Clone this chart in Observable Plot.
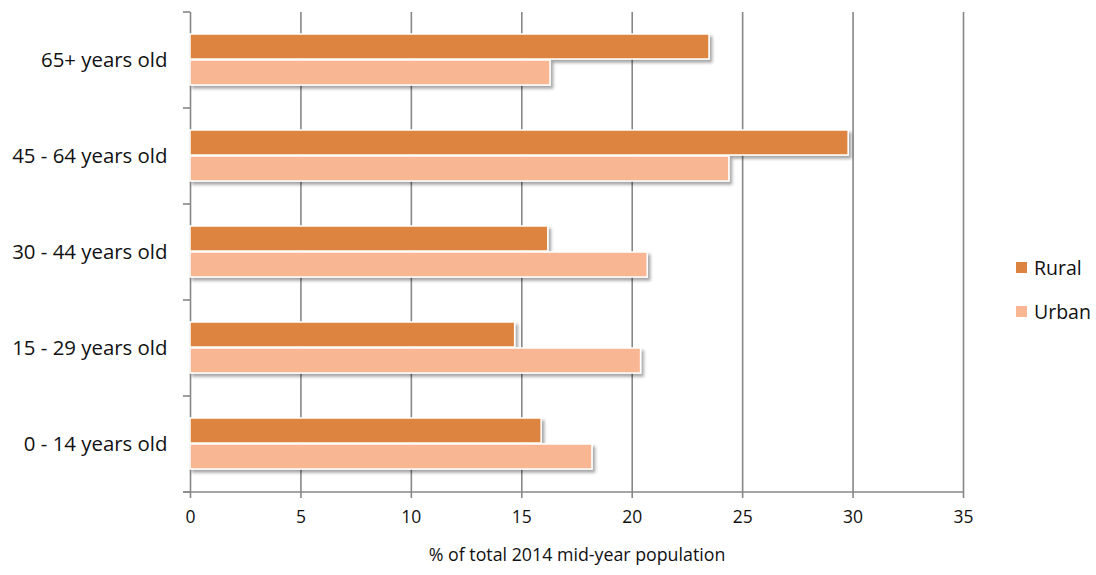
<!DOCTYPE html>
<html>
<head>
<meta charset="utf-8">
<script src="https://cdn.jsdelivr.net/npm/d3@7"></script>
<script src="https://cdn.jsdelivr.net/npm/@observablehq/plot@0.6"></script>
<style>
  html, body { margin: 0; padding: 0; background: #fff; }
  #wrap { position: relative; width: 1096px; height: 575px; font-family: "Open Sans", sans-serif; color: #111; }
  #legend { position: absolute; left: 1016px; top: 256px; }
  .item { display: flex; align-items: center; height: 23px; margin-bottom: 21px; font-size: 19.5px; }
  .sw { width: 11px; height: 11px; margin-right: 7px; }
</style>
</head>
<body>
<div id="wrap"></div>
<script>
// Share of the 2014 mid-year population by age group, rural vs urban
const ageGroups = ["65+ years old", "45 - 64 years old", "30 - 44 years old", "15 - 29 years old", "0 - 14 years old"];
const series = ["Rural", "Urban"];
const rural = [23.5, 29.8, 16.2, 14.7, 15.9];
const urban = [16.3, 24.4, 20.7, 20.4, 18.2];
const colors = ["#DC843F", "#F9B692"];
const xTicks = [0, 5, 10, 15, 20, 25, 30, 35];
const xLabel = "% of total 2014 mid-year population";

const rows = ageGroups.flatMap((group, i) => [
  {group, series: "Rural", value: rural[i]},
  {group, series: "Urban", value: urban[i]}
]);

const gridColor = "#878787";

const chart = Plot.plot({
  width: 1096,
  height: 575,
  marginLeft: 190,
  marginRight: 133,
  marginTop: 10,
  marginBottom: 81,
  style: {fontFamily: "Open Sans, sans-serif", color: "#111", background: "#fff", overflow: "visible"},
  x: {domain: [0, 35], axis: null},
  fy: {domain: ageGroups, padding: 0, axis: null},
  y: {domain: series, paddingInner: 0.04, paddingOuter: 0.807, align: 0.48, axis: null},
  color: {domain: series, range: colors},
  marks: [
    Plot.gridX(xTicks.slice(1), {stroke: gridColor, strokeOpacity: 1, strokeWidth: 1.6}),
    Plot.ruleX([0], {stroke: gridColor, strokeWidth: 1.6}),
    Plot.barX(rows, {
      fy: "group",
      y: "series",
      x: "value",
      fill: "series",
      stroke: "white",
      strokeWidth: 1.5
    }),
    Plot.axisFy({
      anchor: "left",
      tickSize: 0,
      tickPadding: 23,
      fontSize: 20.4,
      label: null
    }),
    Plot.axisX({
      ticks: xTicks,
      tickSize: 6,
      tickPadding: 12,
      stroke: gridColor,
      strokeWidth: 1.6,
      fontSize: 17.5,
      label: null
    }),
    Plot.axisX({
      ticks: [],
      tickSize: 0,
      fontSize: 17.8,
      label: xLabel,
      labelAnchor: "center",
      labelArrow: "none",
      labelOffset: 68
    })
  ]
});

// soft shadow under the bars
const svg = d3.select(chart);
const defs = svg.insert("defs", ":first-child");
defs.append("filter")
  .attr("id", "barShadow")
  .attr("x", "-10%").attr("y", "-30%").attr("width", "120%").attr("height", "180%")
  .append("feDropShadow")
  .attr("dx", 2.5).attr("dy", 3)
  .attr("stdDeviation", 1.8)
  .attr("flood-color", "#000")
  .attr("flood-opacity", 0.35);
svg.selectAll('g[aria-label="bar"]').attr("filter", "url(#barShadow)");

// category boundary ticks on the left axis and the baseline
const fy = chart.scale("fy");
const x = chart.scale("x");
const x0 = x.apply(0), x1 = x.apply(35);
const bounds = ageGroups.map(g => fy.apply(g));
const bottom = fy.apply(ageGroups[ageGroups.length - 1]) + fy.bandwidth;
bounds.push(bottom);
const tickG = svg.append("g").attr("stroke", gridColor).attr("stroke-width", 1.6);
tickG.selectAll("line.b").data(bounds).join("line")
  .attr("x1", x0 - 7).attr("x2", x0)
  .attr("y1", d => d).attr("y2", d => d);
tickG.append("line")
  .attr("x1", x0 - 7).attr("x2", x1)
  .attr("y1", bottom).attr("y2", bottom);

const wrap = document.getElementById("wrap");
wrap.append(chart);

// legend
const legend = d3.select(wrap).append("div").attr("id", "legend");
const items = legend.selectAll("div.item").data(series).join("div").attr("class", "item");
items.append("div").attr("class", "sw").style("background", (d, i) => colors[i]);
items.append("span").text(d => d);
</script>
</body>
</html>
